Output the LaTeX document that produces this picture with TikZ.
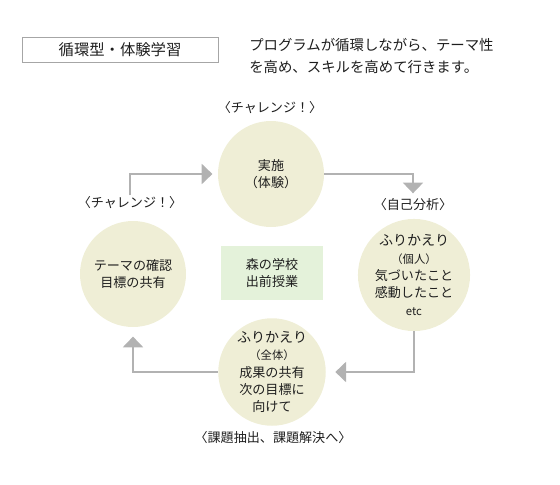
\documentclass[tikz,border=0pt]{standalone}
\usepackage{fontspec}
\setmainfont{Noto Sans CJK JP}
\usepackage{tikz}
\usetikzlibrary{positioning,arrows.meta,calc}
\definecolor{CircleBeige}{RGB}{239, 238, 214}
\definecolor{BoxGreen}{RGB}{228, 242, 218}
\definecolor{LineGray}{RGB}{178, 178, 178}
\definecolor{TextDark}{RGB}{30, 30, 30}

\begin{document}
\begin{tikzpicture}[x=0.75pt, y=-0.75pt,
    stage/.style={circle, fill=CircleBeige, minimum size=79.5pt, inner sep=0pt, align=center,
      text=TextDark, font=\fontsize{9.8}{13}\selectfont},
    tag/.style={text=TextDark, font=\fontsize{9.8}{11}\selectfont, inner sep=1pt},
    flow/.style={draw=LineGray, line width=1.5pt, -{Triangle[width=15pt, length=8pt]}}]
    \useasboundingbox (0,0) rectangle (560,485);

    % heading
    \node[draw=gray!70, line width=0.6pt, minimum width=147pt, minimum height=19pt, text=TextDark,
      font=\fontsize{11.5}{12}\selectfont] (title) at (120,50) {循環型・体験学習};
    \node[anchor=west, align=left, text=TextDark, font=\fontsize{10.8}{17}\selectfont, inner sep=0pt]
      (lead) at (249,56) {プログラムが循環しながら、テーマ性\\を高め、スキルを高めて行きます。};

    % cycle
    \node[stage] (act) at (271,174) {実施\\（体験）};
    \node[stage] (self) at (414,275) {{\fontsize{10.5}{13}\selectfont ふりかえり}\\{\fontsize{8.5}{12}\selectfont （個人）}\\気づいたこと\\感動したこと\\{\fontsize{8.5}{12}\selectfont etc}};
    \node[stage] (group) at (272,372) {{\fontsize{10.5}{13}\selectfont ふりかえり}\\{\fontsize{8.5}{12}\selectfont （全体）}\\成果の共有\\次の目標に\\向けて};
    \node[stage] (theme) at (133,274) {テーマの確認\\目標の共有};
    \node[fill=BoxGreen, minimum width=76.5pt, minimum height=40pt, align=center, text=TextDark,
      font=\fontsize{9.8}{13}\selectfont] (school) at (272,273) {森の学校\\出前授業};

    \node[tag] (chal1) at (270,108) {〈チャレンジ！〉};
    \node[tag] (chal2) at (130,203) {〈チャレンジ！〉};
    \node[tag] (anal) at (413,205) {〈自己分析〉};
    \node[tag] (next) at (273,438) {〈課題抽出、課題解決へ〉};

    \draw[flow, shorten >=4pt] (chal2.north) |- (act.west);
    \draw[flow, shorten >=3pt] (act.east) -| (anal.north);
    \draw[flow, shorten >=7pt] (self.south) |- (group.east);
    \draw[flow, shorten >=7pt] (group.west) -| (theme.south);
  \end{tikzpicture}
\end{document}
